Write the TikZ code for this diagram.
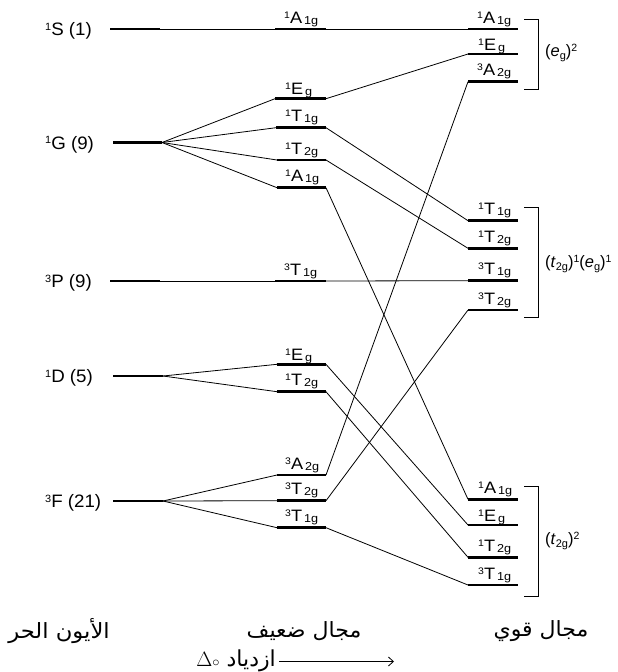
\documentclass[tikz,border=0pt]{standalone}
\usepackage{fontspec}
\setmainfont{Liberation Sans}
\newfontfamily\arabicfont[Script=Arabic]{DejaVu Sans}
\TeXXeTstate=1
\usetikzlibrary{arrows.meta}

% small raised / lowered indices for term symbols
\newcommand\supa[1]{\raisebox{5pt}{\fontsize{9.5}{9}\selectfont #1}}
\newcommand\subb[1]{\raisebox{-1pt}{\fontsize{11.5}{11}\selectfont #1}}
\newcommand\subl[1]{\raisebox{-3.2pt}{\fontsize{11}{11}\selectfont #1}}
\newcommand\supc[1]{\raisebox{5.4pt}{\fontsize{10.5}{10}\selectfont #1}}
\newcommand\sym[3]{\supa{#1}#2\hspace{1.8pt}\subb{#3}}
\newcommand\term[3]{\raisebox{5.4pt}{\fontsize{10.5}{10}\selectfont #1}#2 (#3)}

% one energy level: thick bar with named ends
\newcommand\lev[4]{%
  \coordinate (#1-w) at (#2,#4);
  \coordinate (#1-e) at (#3,#4);
  \draw[lvl] (#1-w) -- (#1-e);}

\begin{document}
\begin{tikzpicture}[x=1pt,y=-1pt,
  lvl/.style={line width=2.7pt},
  con/.style={line width=0.8pt},
  brk/.style={line width=0.9pt},
  ion/.style={font=\fontsize{18}{18}\selectfont, anchor=base west, inner sep=0pt, xscale=1.04},
  lab/.style={font=\fontsize{16.5}{16}\selectfont, anchor=base west, inner sep=0pt, xscale=1.1},
  cfg/.style={font=\fontsize{16.5}{16}\selectfont, anchor=west, inner sep=0pt},
  ar/.style={font=\arabicfont\fontsize{21}{22}\selectfont, inner sep=0pt}]
\useasboundingbox (0,0) rectangle (618,672);

% free ion terms
\lev{LS}{110}{160}{29}
\lev{LG}{113}{162}{142.5}
\lev{LP}{110}{160}{281}
\lev{LD}{113}{163}{376}
\lev{LF}{113}{163}{501}

% weak field levels
\lev{MA}{275}{326}{29}
\lev{MEg}{275}{326}{98.7}
\lev{MTa}{276}{326}{127.7}
\lev{MTb}{277}{326}{160}
\lev{MAb}{277}{326}{187.7}
\lev{MP}{275}{326}{281}
\lev{MDe}{277}{326}{364.3}
\lev{MDt}{277}{326}{391.7}
\lev{MFa}{277}{326}{475}
\lev{MFb}{277}{326}{500.7}
\lev{MFc}{277}{326}{527.7}

% strong field levels
\lev{RA}{468}{518}{29}
\lev{REg}{468}{518}{54}
\lev{RAt}{468}{518}{81.7}
\lev{RTa}{468}{518}{220.7}
\lev{RTb}{468}{518}{248.3}
\lev{RTc}{468}{518}{280.7}
\lev{RTd}{468}{518}{310}
\lev{RAb}{468}{518}{499.3}
\lev{REb}{468}{518}{525}
\lev{RTe}{468}{518}{557.3}
\lev{RTf}{468}{518}{585}

% free ion labels
\node[ion] (tS) at (45,35.5) {\term{1}{S}{1}};
\node[ion] (tG) at (45,149) {\term{1}{G}{9}};
\node[ion] (tP) at (45,287.5) {\term{3}{P}{9}};
\node[ion] (tD) at (45,382.5) {\term{1}{D}{5}};
\node[ion] (tF) at (45,507.5) {\term{3}{F}{21}};

% weak field labels
\node[lab] (lMA)  at ([xshift=9pt,yshift=6pt]MA-w)  {\sym{1}{A}{1g}};
\node[lab] (lMEg) at ([xshift=10pt,yshift=4pt]MEg-w) {\sym{1}{E}{g}};
\node[lab] (lMTa) at ([xshift=9pt,yshift=6pt]MTa-w) {\sym{1}{T}{1g}};
\node[lab] (lMTb) at ([xshift=8pt,yshift=6pt]MTb-w) {\sym{1}{T}{2g}};
\node[lab] (lMAb) at ([xshift=8pt,yshift=6pt]MAb-w) {\sym{1}{A}{1g}};
\node[lab] (lMP)  at ([xshift=9pt,yshift=6pt]MP-w)  {\sym{3}{T}{1g}};
\node[lab] (lMDe) at ([xshift=8pt,yshift=4pt]MDe-w) {\sym{1}{E}{g}};
\node[lab] (lMDt) at ([xshift=8pt,yshift=6pt]MDt-w) {\sym{1}{T}{2g}};
\node[lab] (lMFa) at ([xshift=8pt,yshift=6pt]MFa-w) {\sym{3}{A}{2g}};
\node[lab] (lMFb) at ([xshift=8pt,yshift=6pt]MFb-w) {\sym{3}{T}{2g}};
\node[lab] (lMFc) at ([xshift=8pt,yshift=6pt]MFc-w) {\sym{3}{T}{1g}};

% strong field labels
\node[lab] (lRA)  at ([xshift=9pt,yshift=6pt]RA-w)  {\sym{1}{A}{1g}};
\node[lab] (lREg) at ([xshift=10pt,yshift=4pt]REg-w) {\sym{1}{E}{g}};
\node[lab] (lRAt) at ([xshift=9pt,yshift=6pt]RAt-w) {\sym{3}{A}{2g}};
\node[lab] (lRTa) at ([xshift=10pt,yshift=6pt]RTa-w) {\sym{1}{T}{1g}};
\node[lab] (lRTb) at ([xshift=10pt,yshift=6pt]RTb-w) {\sym{1}{T}{2g}};
\node[lab] (lRTc) at ([xshift=10pt,yshift=6pt]RTc-w) {\sym{3}{T}{1g}};
\node[lab] (lRTd) at ([xshift=10pt,yshift=6pt]RTd-w) {\sym{3}{T}{2g}};
\node[lab] (lRAb) at ([xshift=10pt,yshift=6pt]RAb-w) {\sym{1}{A}{1g}};
\node[lab] (lREb) at ([xshift=10pt,yshift=4pt]REb-w) {\sym{1}{E}{g}};
\node[lab] (lRTe) at ([xshift=10pt,yshift=6pt]RTe-w) {\sym{1}{T}{2g}};
\node[lab] (lRTf) at ([xshift=10pt,yshift=6pt]RTf-w) {\sym{3}{T}{1g}};

% correlation lines
\draw[con] (LS-e) -- (MA-w);
\draw[con] (MA-e) -- (RA-w);
\draw[con] (LG-e) -- (MEg-w);
\draw[con] (LG-e) -- (MTa-w);
\draw[con] (LG-e) -- (MTb-w);
\draw[con] (LG-e) -- (MAb-w);
\draw[con] (MEg-e) -- (REg-w);
\draw[con] (MTa-e) -- (RTa-w);
\draw[con] (MTb-e) -- (RTb-w);
\draw[con] (MAb-e) -- (RAb-w);
\draw[con] (LP-e) -- (MP-w);
\draw[con] (MP-e) -- (RTc-w);
\draw[con] (LD-e) -- (MDe-w);
\draw[con] (LD-e) -- (MDt-w);
\draw[con] (MDe-e) -- (REb-w);
\draw[con] (MDt-e) -- (RTe-w);
\draw[con] (LF-e) -- (MFa-w);
\draw[con] (LF-e) -- (MFb-w);
\draw[con] (LF-e) -- (MFc-w);
\draw[con] (MFa-e) -- (RAt-w);
\draw[con] (MFb-e) -- (RTd-w);
\draw[con] (MFc-e) -- (RTf-w);

% configuration brackets
\coordinate (b1t) at (524,19.3);  \coordinate (b1b) at (524,89);
\coordinate (b2t) at (524,207.3); \coordinate (b2b) at (524,317.3);
\coordinate (b3t) at (524,486.7); \coordinate (b3b) at (524,596);
\draw[brk] (b1t) -- ++(14.7,0) |- (b1b);
\draw[brk] (b2t) -- ++(14.7,0) |- (b2b);
\draw[brk] (b3t) -- ++(14.7,0) |- (b3b);
\node[cfg] (c1) at (545,53) {(\textit{e}\subl{g})\supc{2}};
\node[cfg] (c2) at (545,264) {(\textit{t}\subl{2g})\supc{1}(\textit{e}\subl{g})\supc{1}};
\node[cfg] (c3) at (545,541) {(\textit{t}\subl{2g})\supc{2}};

% column titles
\node[ar, xscale=1.08] (h1) at (59,631) {\beginR الأيون الحر\endR};
\node[ar, xscale=1.05] (h2) at (304,631) {\beginR مجال ضعيف\endR};
\node[ar, xscale=1.05] (h3) at (541,631) {\beginR مجال قوي\endR};

% increasing field strength
\coordinate (a0) at (279,661.5);
\coordinate (a1) at (394,661.5);
\draw[con,-{Straight Barb[length=5pt,width=9pt]}] (a0) -- (a1);
\node[ar, anchor=base east, font=\arabicfont\fontsize{22}{22}\selectfont] (inc) at (276,666.5)
  {\beginL{\fontsize{20}{20}\selectfont$\Delta$}{\fontsize{14}{14}\selectfont$\circ$}\endL\ \beginR ازدياد\endR};
\end{tikzpicture}
\end{document}
